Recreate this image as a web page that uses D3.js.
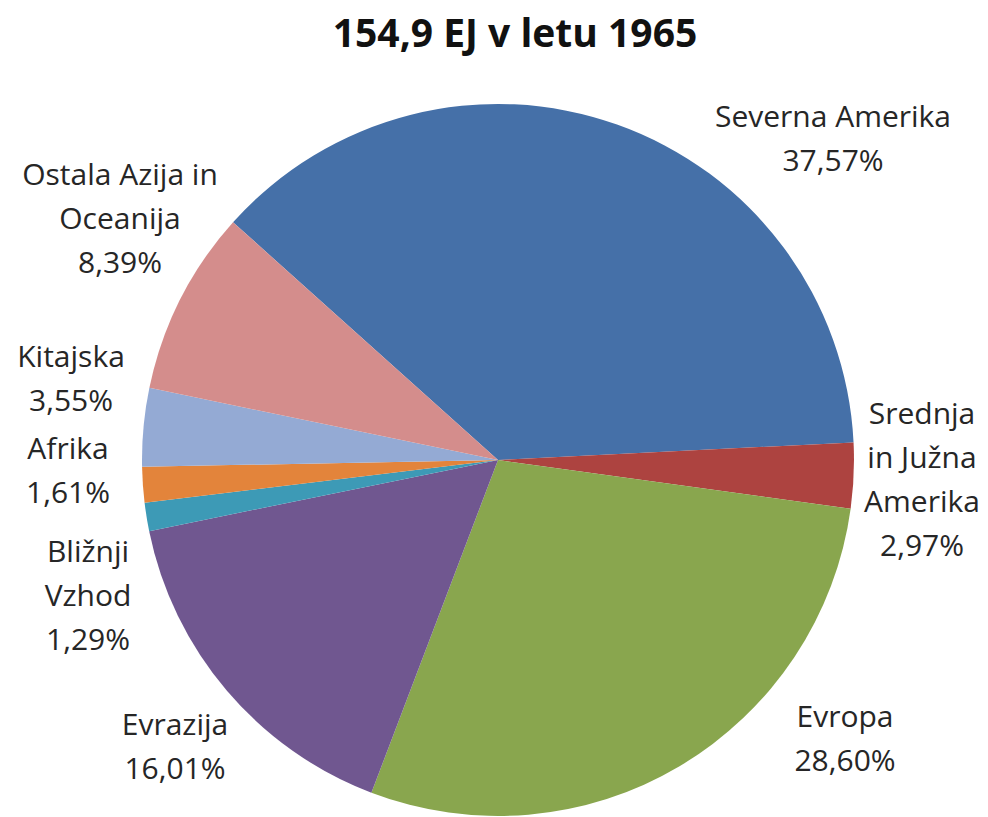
<!DOCTYPE html>
<html>
<head>
<meta charset="utf-8">
<script src="https://cdn.jsdelivr.net/npm/d3@7"></script>
<style>
  body { margin: 0; background: #fff; }
  svg text { font-family: "Open Sans", sans-serif; fill: #262626; }
</style>
</head>
<body>
<script>
// data, 1965 (154,9 EJ)
var regions = ["Severna Amerika", "Srednja in Južna Amerika", "Evropa", "Evrazija",
               "Bližnji Vzhod", "Afrika", "Kitajska", "Ostala Azija in Oceanija"];
var shares = [37.57, 2.97, 28.60, 16.01, 1.29, 1.61, 3.55, 8.39];
var labelLines = [["Severna Amerika"], ["Srednja", "in Južna", "Amerika"], ["Evropa"], ["Evrazija"],
                  ["Bližnji", "Vzhod"], ["Afrika"], ["Kitajska"], ["Ostala Azija in", "Oceanija"]];
var colors = ["#4570a8", "#ad4340", "#89a64e", "#705790", "#3d9ab6", "#e3843b", "#94aad4", "#d48d8c"];

var title = "154,9 EJ v letu 1965";

var width = 988,
    height = 817,
    cx = 498,
    cy = 460,
    radius = 356;

// where excel put each label block (offset of block centre from pie centre)
var labelAt = [[335, -320], [424, 21], [347, 280], [-323, 288], [-410, 137], [-430, 12], [-427, -80], [-378, -240]];
var lineHeight = 44;

var pformat = function(v) { return v.toFixed(2).replace(".", ",") + "%"; };

var svg = d3.select("body").append("svg")
    .attr("width", width)
    .attr("height", height);

svg.append("text")
    .attr("x", 515)
    .attr("y", 47)
    .attr("text-anchor", "middle")
    .style("font-size", "39px")
    .style("font-weight", "bold")
    .style("fill", "#111")
    .text(title);

var data = regions.map(function(r, i) {
    return {region: r, value: shares[i], color: colors[i], lines: labelLines[i], pos: labelAt[i]};
});

var start = -48.1 * Math.PI / 180;
var pie = d3.pie()
    .sort(null)
    .startAngle(start)
    .endAngle(start + 2 * Math.PI)
    .value(function(d) { return d.value; });

var arc = d3.arc()
    .outerRadius(radius)
    .innerRadius(0);

var g = svg.append("g")
    .attr("transform", "translate(" + cx + "," + cy + ")");

g.selectAll(".arc")
    .data(pie(data))
  .enter().append("path")
    .attr("class", "arc")
    .attr("d", arc)
    .style("fill", function(d) { return d.data.color; });

var labels = g.selectAll(".label")
    .data(pie(data))
  .enter().append("text")
    .attr("class", "label")
    .attr("text-anchor", "middle")
    .style("font-size", "30px");

labels.each(function(d) {
    var t = d3.select(this);
    var lines = d.data.lines.concat([pformat(d.data.value)]);
    var top = d.data.pos[1] - (lines.length - 1) * lineHeight / 2 + 9;
    lines.forEach(function(l, j) {
        t.append("tspan")
            .attr("x", d.data.pos[0])
            .attr("y", top + j * lineHeight)
            .text(l);
    });
});
</script>
</body>
</html>
